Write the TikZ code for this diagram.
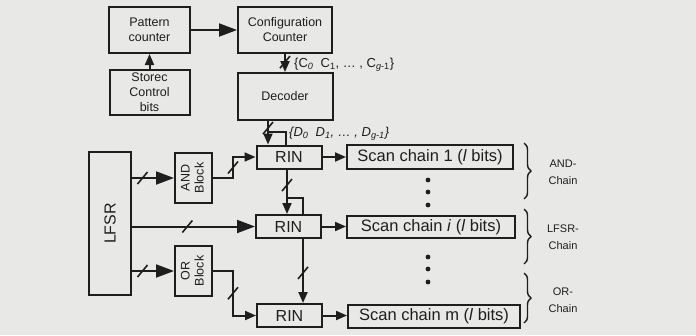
\documentclass[tikz,border=0pt]{standalone}
\usepackage{fontspec}
\setmainfont{Liberation Sans}
\usetikzlibrary{arrows.meta,calc,decorations.pathreplacing}
\definecolor{paper}{RGB}{232,232,230}
\definecolor{ink}{RGB}{30,30,30}

\begin{document}
\begin{tikzpicture}[x=1pt,y=-1pt,
  box/.style={draw=ink, line width=2pt, inner sep=0pt, align=center, text=ink},
  wire/.style={draw=ink, line width=2pt},
  arr/.style={wire, -{Triangle[length=11pt,width=9pt]}},
  bigarr/.style={wire, -{Triangle[length=18pt,width=13pt]}},
  small/.style={font=\fontsize{12.5}{15}\selectfont},
  big/.style={font=\fontsize{16}{18}\selectfont},
  chainlbl/.style={font=\fontsize{11}{17}\selectfont, align=center, text=ink},
  buslbl/.style={font=\fontsize{13}{15}\selectfont, anchor=west, inner sep=0pt, text=ink},
  bracket/.style={draw=ink, line width=1.4pt, decorate, decoration={brace, amplitude=7pt}},
]
\fill[paper] (0,0) rectangle (696,335);
\useasboundingbox (0,0) rectangle (696,335);

% control part
\node[box, small, minimum width=81pt, minimum height=46pt] (pat) at (149.5,30) {Pattern\\counter};
\node[box, small, minimum width=94pt, minimum height=46pt] (conf) at (285,30) {Configuration\\Counter};
\node[box, small, minimum width=80pt, minimum height=45pt] (stor) at (149.5,92.5) {Storec\\Control\\bits};
\node[box, small, minimum width=95pt, minimum height=47pt] (dec) at (285,96.5) {Decoder};

% pattern source and gating blocks
\node[box, big, minimum width=42pt, minimum height=143pt] (lfsr) at (110,223.5) {\rotatebox{90}{LFSR}};
\node[box, small, minimum width=37pt, minimum height=50pt] (and) at (193.5,178) {\rotatebox{90}{\begin{tabular}{@{}c@{}}AND\\[-1pt]Block\end{tabular}}};
\node[box, small, minimum width=37pt, minimum height=50pt] (or) at (193.5,271) {\rotatebox{90}{\begin{tabular}{@{}c@{}}OR\\[-1pt]Block\end{tabular}}};

% RIN blocks
\node[box, big, minimum width=65pt, minimum height=23pt] (rin1) at (289,157) {RIN};
\node[box, big, minimum width=65pt, minimum height=23pt] (rin2) at (288.5,226.5) {RIN};
\node[box, big, minimum width=65pt, minimum height=23pt] (rin3) at (289.5,315.5) {RIN};

% scan chains
\node[box, big, font=\fontsize{16.5}{18}\selectfont, minimum width=166pt, minimum height=24pt] (sc1) at (430,157) {Scan chain 1 (\textit{l} bits)};
\node[box, big, font=\fontsize{16.5}{18}\selectfont, minimum width=168pt, minimum height=22pt] (sci) at (431,227) {Scan chain \textit{i} (\textit{l} bits)};
\node[box, big, font=\fontsize{16.5}{18}\selectfont, minimum width=172pt, minimum height=23pt] (scm) at (434,316.5) {Scan chain m (\textit{l} bits)};

% bus labels
\node[buslbl] (clab) at (294,65) {\{C\textsubscript{\textit{0}}\ \ C\textsubscript{1}, \dots\ , C\textsubscript{\textit{g}-1}\}};
\node[buslbl] (dlab) at (289,134) {\textit{\{D\textsubscript{0}\ \ D\textsubscript{1}, \dots\ , D\textsubscript{g-1}\}}};

% control connections
\draw[bigarr] (pat) -- (conf);
\draw[arr] (stor) -- (pat);
\draw[arr] (conf) -- coordinate[pos=0.45] (s0) (dec);

\coordinate (dd) at ([xshift=-17pt]dec.south);
\draw[arr] (dd) -- coordinate[pos=0.3] (s1) (dd |- rin1.north);
\draw[wire] ($(dd)+(0,11)$) -| ([xshift=-3pt]rin1.north);

\coordinate (r12) at ([xshift=-2pt]rin1.south);
\draw[arr] (r12) -- coordinate[pos=0.35] (s2) (r12 |- rin2.north);
\draw[wire] ($(r12)+(0,28)$) -| ([xshift=14.5pt]rin2.north);

\coordinate (r23) at ([xshift=14.5pt]rin2.south);
\draw[arr] (r23) -- coordinate[pos=0.53] (s3) (r23 |- rin3.north);

% LFSR outputs
\draw[bigarr] (lfsr.east |- and.west) -- coordinate[pos=0.25] (s4) (and.west);
\draw[bigarr] (lfsr.east |- rin2.west) -- coordinate[pos=0.45] (s5) (rin2.west);
\draw[bigarr] (lfsr.east |- or.west) -- coordinate[pos=0.25] (s6) (or.west);

\coordinate (ja) at (233,0);
\draw[arr] (and.east) -- (ja |- and.east) -- coordinate[pos=0.5] (s7) (ja |- rin1.west) -- (rin1.west);
\draw[arr] (or.east) -- (ja |- or.east) -- coordinate[pos=0.5] (s8) (ja |- rin3.west) -- (rin3.west);

% RIN to scan chains
\draw[arr] (rin1) -- (sc1);
\draw[arr] (rin2.east) -- (rin2.east -| sci.west);
\draw[arr] (rin3.east) -- (rin3.east -| scm.west);

% bus width marks
\foreach \s in {s0,s1,s2,s3,s4,s5,s6,s7,s8}
  \draw[wire, line width=1.6pt] (\s) ++(-5,6) -- ++(10,-12);

% continuation dots
\foreach \y in {180,192,205,257,269,282}
  \fill[ink] (428,\y) circle[radius=2.4pt];

% chain groups
\draw[bracket] (524,143) -- (524,199);
\draw[bracket] (524,209) -- (524,264);
\draw[bracket] (524,273) -- (524,323);
\node[chainlbl] (gand) at (563,172) {AND-\\Chain};
\node[chainlbl] (glfsr) at (563,237) {LFSR-\\Chain};
\node[chainlbl] (gor) at (563,300) {OR-\\Chain};
\end{tikzpicture}
\end{document}
